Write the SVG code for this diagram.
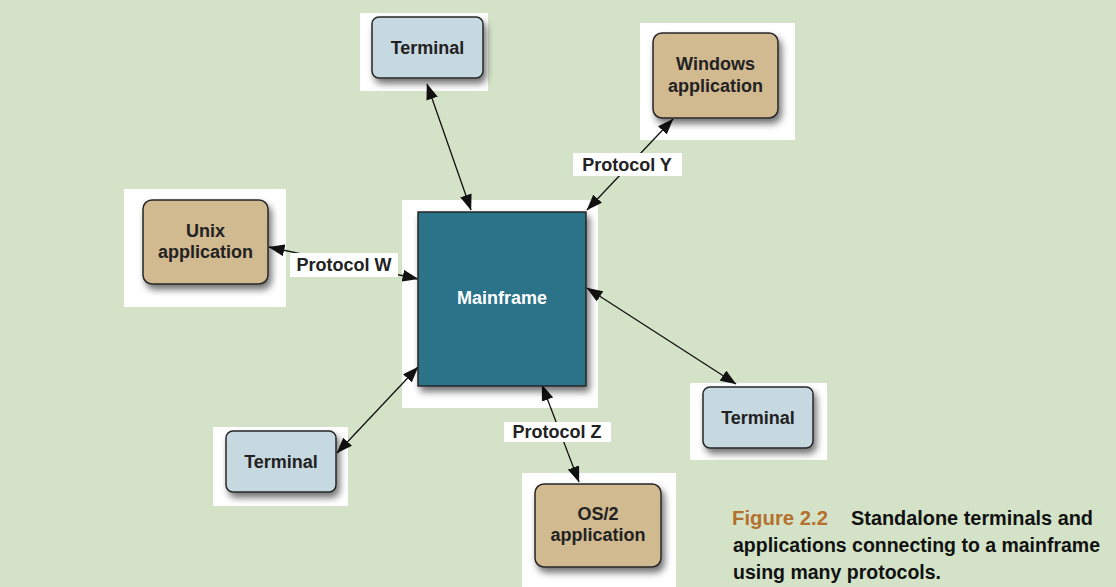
<svg xmlns="http://www.w3.org/2000/svg" width="1116" height="587" viewBox="0 0 1116 587">
<style>
.bg{fill:#d4e3c8}
.back{fill:#ffffff}
.box{stroke:#262626;stroke-width:1.5}
.term{fill:#c7d9e0}
.app{fill:#d1b990}
.main{fill:#2a7389}
.t{font-family:"Liberation Sans",Arial,sans-serif;font-weight:bold;font-size:18px;fill:#222;text-anchor:middle}
.tw{fill:#ffffff}
.lbl{fill:#ffffff}
.conn line{stroke:#111;stroke-width:1.3;marker-start:url(#ah);marker-end:url(#ah)}
.cap{font-family:"Liberation Sans",Arial,sans-serif;font-weight:bold;font-size:20px;fill:#111}
.fig{fill:#b5702e}
</style>
<defs>
<filter id="sh" x="-20%" y="-20%" width="150%" height="160%">
<feDropShadow dx="3" dy="5" stdDeviation="3.5" flood-color="#000" flood-opacity="0.55"/>
</filter>
<marker id="ah" viewBox="0 0 16 12" markerWidth="16" markerHeight="12" refX="15.5" refY="6" orient="auto-start-reverse" markerUnits="userSpaceOnUse">
<path d="M0,0 L16,6 L0,12 z" fill="#111"/>
</marker>
</defs>
<rect class="bg" x="0" y="0" width="1116" height="587"/>

<g id="backings">
<rect class="back" x="360" y="13" width="128" height="78"/>
<rect class="back" x="124" y="189" width="162" height="118"/>
<rect class="back" x="640" y="23" width="155" height="117"/>
<rect class="back" x="402" y="200" width="196" height="208"/>
<rect class="back" x="213" y="427" width="135" height="79"/>
<rect class="back" x="690" y="383" width="137" height="77"/>
<rect class="back" x="522" y="473" width="154" height="114"/>
</g>

<g id="connectors" class="conn">
<line x1="427" y1="84" x2="471" y2="210"/>
<line x1="269" y1="247" x2="418" y2="279"/>
<line x1="673" y1="119" x2="587" y2="210"/>
<line x1="587" y1="288" x2="736" y2="384"/>
<line x1="418" y1="367" x2="337" y2="453"/>
<line x1="542" y1="385" x2="579" y2="482"/>
</g>

<g id="labels">
<g id="label-w"><rect class="lbl" x="290" y="253" width="108" height="24"/><text class="t" x="344" y="271">Protocol W</text></g>
<g id="label-y"><rect class="lbl" x="573" y="153" width="109" height="23"/><text class="t" x="627" y="171">Protocol Y</text></g>
<g id="label-z"><rect class="lbl" x="504" y="422" width="107" height="20"/><text class="t" x="557" y="438">Protocol Z</text></g>
</g>

<g id="terminal-top">
<rect class="box term" x="372" y="17" width="111" height="61" rx="7" filter="url(#sh)"/>
<text class="t" x="427.5" y="54">Terminal</text>
</g>
<g id="unix-app">
<rect class="box app" x="143" y="200" width="125" height="84" rx="9" filter="url(#sh)"/>
<text class="t" x="205.5" y="237">Unix</text>
<text class="t" x="205.5" y="258">application</text>
</g>
<g id="windows-app">
<rect class="box app" x="653" y="33" width="125" height="85" rx="9" filter="url(#sh)"/>
<text class="t" x="715.5" y="70">Windows</text>
<text class="t" x="715.5" y="92">application</text>
</g>
<g id="mainframe">
<rect class="box main" x="418" y="212" width="168" height="174" filter="url(#sh)"/>
<text class="t tw" x="502" y="304">Mainframe</text>
</g>
<g id="terminal-left">
<rect class="box term" x="226" y="431" width="110" height="61" rx="7" filter="url(#sh)"/>
<text class="t" x="281" y="468">Terminal</text>
</g>
<g id="terminal-right">
<rect class="box term" x="703" y="387" width="110" height="61" rx="7" filter="url(#sh)"/>
<text class="t" x="758" y="424">Terminal</text>
</g>
<g id="os2-app">
<rect class="box app" x="535" y="484" width="126" height="83" rx="9" filter="url(#sh)"/>
<text class="t" x="598" y="520">OS/2</text>
<text class="t" x="598" y="541">application</text>
</g>

<g id="caption">
<text class="cap fig" x="732" y="525" textLength="96" lengthAdjust="spacingAndGlyphs">Figure 2.2</text>
<text class="cap" x="851" y="525" textLength="242" lengthAdjust="spacingAndGlyphs">Standalone terminals and</text>
<text class="cap" x="733" y="552" textLength="367" lengthAdjust="spacingAndGlyphs">applications connecting to a mainframe</text>
<text class="cap" x="733" y="579" textLength="208" lengthAdjust="spacingAndGlyphs">using many protocols.</text>
</g>
</svg>
